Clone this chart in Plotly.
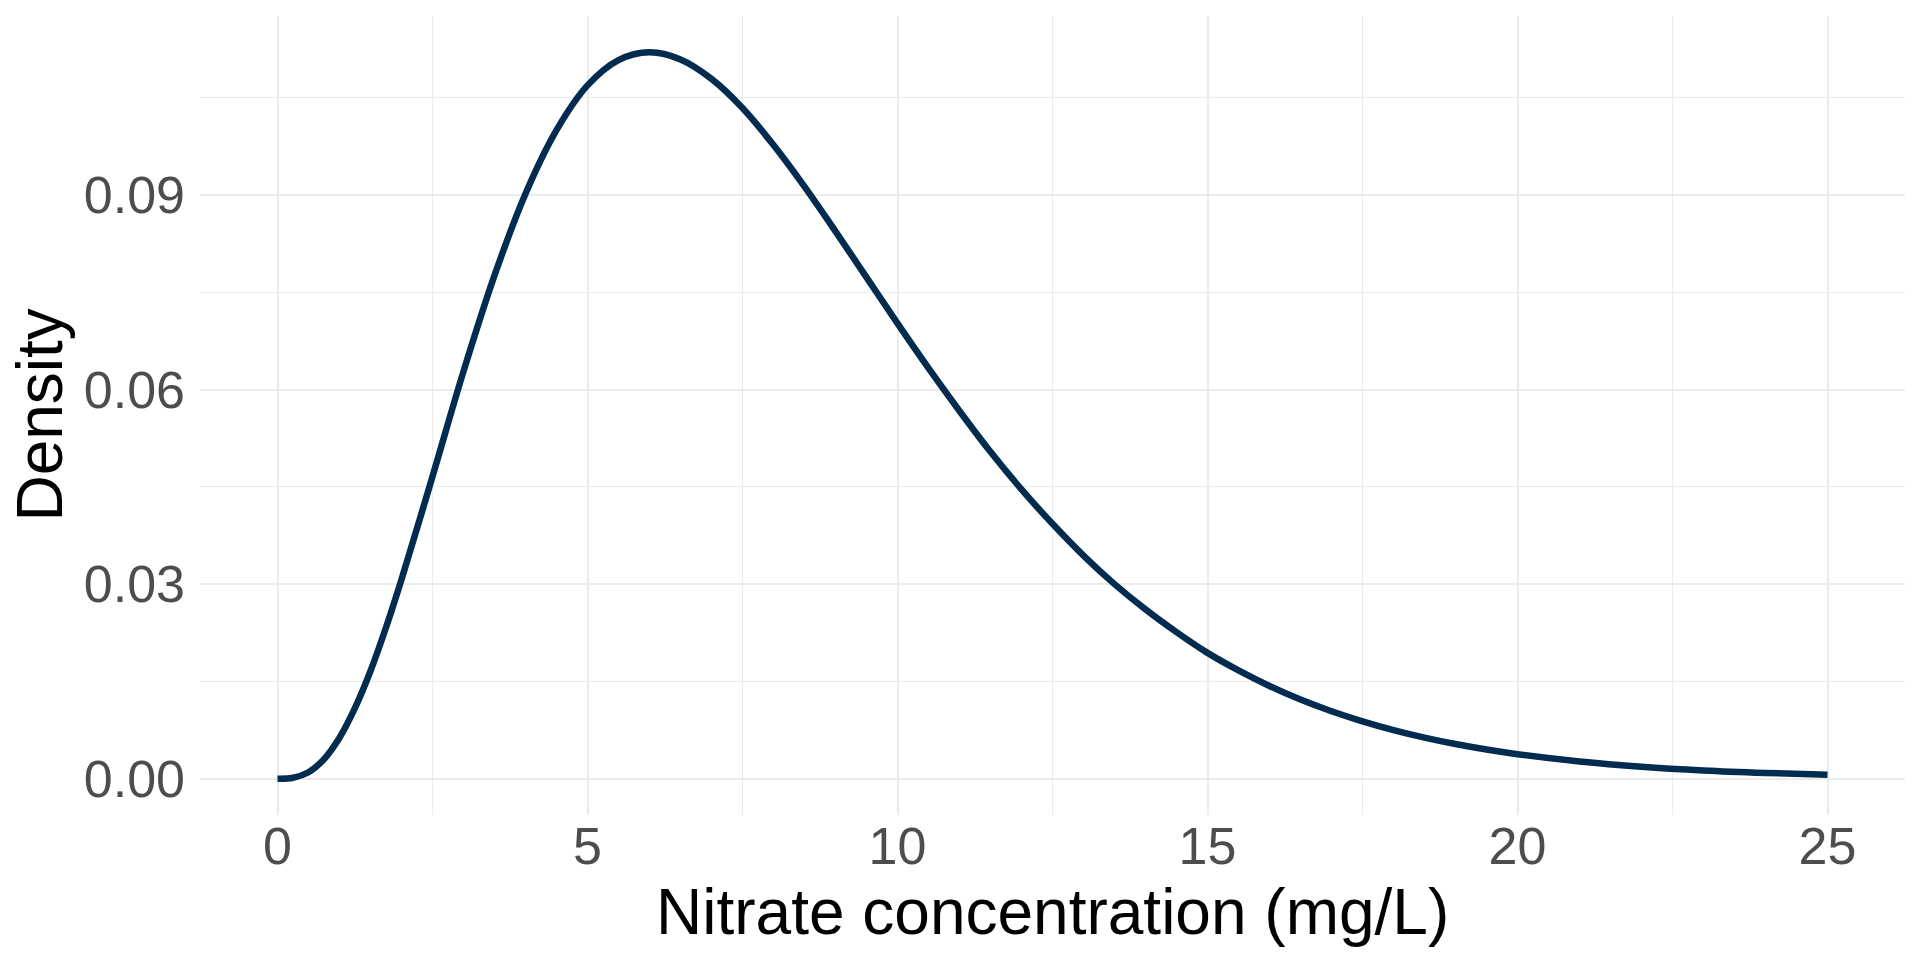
import plotly.graph_objects as go

# nitrate concentration (mg/L) and density
nitrate = [0, 0.25, 0.5, 0.75, 1, 1.25, 1.5, 1.75, 2, 2.5, 3, 3.5, 4, 4.5, 5, 5.5,
           6, 6.5, 7, 7.5, 8, 8.5, 9, 9.5, 10, 10.5, 11, 11.5, 12, 12.5, 13, 13.5,
           14, 14.5, 15, 15.5, 16, 16.5, 17, 17.5, 18, 18.5, 19, 19.5, 20, 21, 22,
           23, 24, 25]
density = [0.0, 0.00014, 0.0010, 0.0030, 0.0063, 0.0109, 0.0166, 0.0233, 0.0307,
           0.0466, 0.0628, 0.0776, 0.0902, 0.1000, 0.1069, 0.1108, 0.1120, 0.1109,
           0.1079, 0.1034, 0.0977, 0.0913, 0.0844, 0.0773, 0.0702, 0.0633, 0.0567,
           0.0504, 0.0446, 0.0393, 0.0344, 0.0300, 0.0261, 0.0226, 0.0194, 0.0167,
           0.0143, 0.0122, 0.0104, 0.00885, 0.0075, 0.00634, 0.00535, 0.00450,
           0.00378, 0.00266, 0.00185, 0.00128, 0.00089, 0.00061]

x_ticks = [0, 5, 10, 15, 20, 25]
y_ticks = [0.00, 0.03, 0.06, 0.09]
y_labels = ["0.00", "0.03", "0.06", "0.09"]

fig = go.Figure()
fig.add_trace(go.Scatter(
    x=nitrate, y=density, mode="lines",
    line=dict(color="#022B50", width=6.5, shape="spline", smoothing=1.0),
    hoverinfo="skip", showlegend=False,
))

grid = "#EBEBEB"
fig.update_layout(
    width=1920, height=960,
    paper_bgcolor="white", plot_bgcolor="white",
    margin=dict(l=192, r=23, t=8, b=153),
    font=dict(family="Liberation Sans, Arial, sans-serif", color="#4D4D4D"),
    xaxis=dict(
        range=[-1.25, 26.25], tickvals=x_ticks, ticks="", showline=False,
        zeroline=False, gridcolor=grid, gridwidth=2.2, automargin=False,
        tickfont=dict(size=52, color="#4D4D4D"), ticklabelstandoff=-4,
        minor=dict(dtick=2.5, tick0=0, showgrid=True, gridcolor=grid, gridwidth=1.1),
    ),
    yaxis=dict(
        range=[-0.0056, 0.1176], tickvals=y_ticks, ticktext=y_labels, ticks="",
        showline=False, zeroline=False, gridcolor=grid, gridwidth=2.2,
        automargin=False,
        tickfont=dict(size=52, color="#4D4D4D"), ticklabelstandoff=14,
        minor=dict(dtick=0.015, tick0=0, showgrid=True, gridcolor=grid, gridwidth=1.1),
    ),
    annotations=[
        dict(text="Nitrate concentration (mg/L)", xref="paper", yref="paper",
             x=0.5, y=-0.121, xanchor="center", yanchor="middle", showarrow=False,
             font=dict(size=64, color="black")),
        dict(text="Density", xref="paper", yref="paper", x=-0.0944, y=0.5,
             xanchor="center", yanchor="middle", textangle=-90, showarrow=False,
             font=dict(size=64, color="black")),
    ],
)

fig.write_html("out.html")
